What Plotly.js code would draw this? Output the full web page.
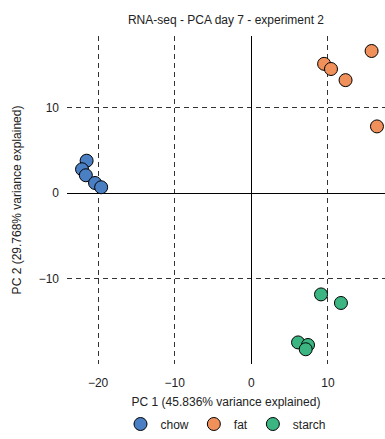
<!DOCTYPE html>
<html>
<head>
<meta charset="utf-8">
<script src="https://cdn.plot.ly/plotly-3.0.1.min.js"></script>
<style>
  html, body { margin: 0; padding: 0; background: #fff; }
  #chart { width: 385px; height: 439px; }
</style>
</head>
<body>
<div id="chart"></div>
<script>
// PCA scores per diet group (PC1, PC2)
const groups = ["chow", "fat", "starch"];
const groupColors = ["#4a7fc4", "#f0915b", "#3bb683"];

const chowPC1 = [-21.5, -22.1, -21.6, -20.4, -19.6];
const chowPC2 = [3.8, 2.8, 2.1, 1.2, 0.7];

const fatPC1 = [15.7, 9.5, 10.4, 12.3, 16.4];
const fatPC2 = [16.6, 15.1, 14.5, 13.2, 7.8];

const starchPC1 = [9.1, 11.7, 6.1, 7.4, 7.1];
const starchPC2 = [-11.8, -12.8, -17.4, -17.7, -18.2];

const xTicks = [-20, -10, 0, 10];
const yTicks = [-10, 0, 10];

const pc1 = [chowPC1, fatPC1, starchPC1];
const pc2 = [chowPC2, fatPC2, starchPC2];

const traces = groups.map((g, i) => ({
  type: "scatter",
  mode: "markers",
  name: g,
  x: pc1[i],
  y: pc2[i],
  marker: {
    size: 13,
    color: groupColors[i],
    line: { color: "#000", width: 1 }
  }
}));

const font = { family: "Liberation Sans, Arial, sans-serif", size: 12, color: "#222" };
const minus = v => v < 0 ? "\u2212" + Math.abs(v) : String(v);

const layout = {
  width: 385,
  height: 439,
  margin: { l: 67, r: 0, t: 36, b: 75, autoexpand: false },
  paper_bgcolor: "#fff",
  plot_bgcolor: "#fff",
  font: font,
  showlegend: true,
  title: {
    text: "RNA-seq - PCA day 7 - experiment 2",
    x: 0.5, xref: "paper", xanchor: "center",
    y: 0.965, yref: "container",
    font: { family: font.family, size: 12, color: "#222" }
  },
  xaxis: {
    range: [-24.06, 17.45],
    tickvals: xTicks,
    ticktext: xTicks.map(minus),
    showgrid: true,
    gridcolor: "#333",
    griddash: "5px,4px",
    gridwidth: 1,
    zeroline: true,
    zerolinecolor: "#000",
    zerolinewidth: 1.3,
    showline: false,
    ticks: "",
    ticklabelstandoff: 10,
    automargin: false,
    title: { text: "PC 1 (45.836% variance explained)", standoff: 10, font: { size: 12, color: "#222" } }
  },
  yaxis: {
    range: [-19.92, 18.35],
    tickvals: yTicks,
    ticktext: yTicks.map(minus),
    showgrid: true,
    gridcolor: "#333",
    griddash: "5px,4px",
    gridwidth: 1,
    zeroline: true,
    zerolinecolor: "#000",
    zerolinewidth: 1.3,
    showline: false,
    ticks: "",
    ticklabelstandoff: 7,
    automargin: false,
    title: { text: "PC 2 (29.768% variance explained)", standoff: 14, font: { size: 12, color: "#222" } }
  },
  legend: {
    orientation: "h",
    x: 0.5, xanchor: "center", xref: "paper",
    y: 15 / 439, yanchor: "middle", yref: "container",
    font: { size: 12, color: "#222" },
    itemwidth: 30,
    tracegroupgap: 0
  }
};

Plotly.newPlot("chart", traces, layout, { displayModeBar: false, staticPlot: true });
</script>
</body>
</html>
